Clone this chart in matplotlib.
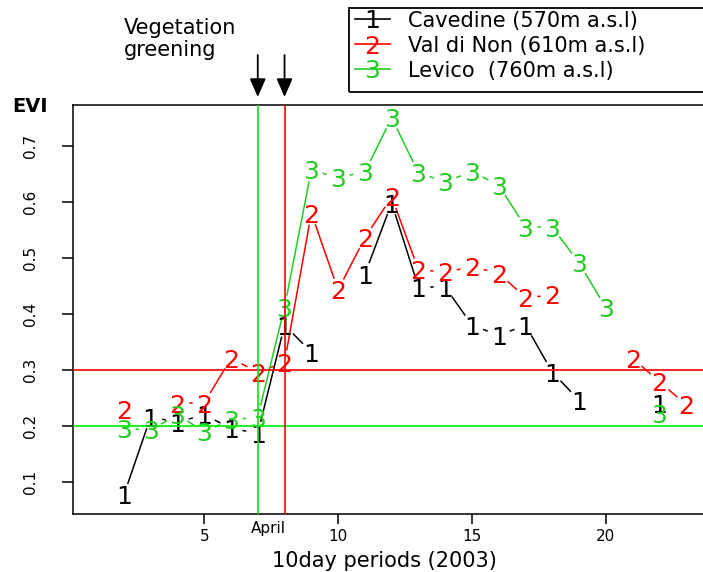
import numpy as np
import matplotlib
matplotlib.use("Agg")
import matplotlib.pyplot as plt
from matplotlib.patches import Rectangle

# EVI per 10-day period (2003), NaN = missing
periods = np.arange(2, 24)
cavedine = [0.077, 0.216, 0.207, 0.220, 0.196, 0.187, 0.380, 0.332, np.nan, 0.471, 0.598,
            0.448, 0.448, 0.380, 0.362, 0.380, 0.296, 0.246, np.nan, np.nan, 0.241, np.nan]
valdinon = [0.229, np.nan, 0.241, 0.241, 0.321, 0.296, 0.314, 0.580, 0.443, 0.536, 0.609,
            0.479, 0.475, 0.484, 0.473, 0.429, 0.434, np.nan, np.nan, 0.321, 0.279, 0.238]
levico = [0.196, 0.193, 0.220, 0.190, 0.211, 0.216, 0.412, 0.657, 0.643, 0.654, 0.750,
          0.652, 0.636, 0.654, 0.630, 0.555, 0.555, 0.491, 0.411, np.nan, 0.223, np.nan]

series_names = ["Cavedine (570m a.s.l)", "Val di Non (610m a.s.l)", "Levico  (760m a.s.l)"]
series_symbols = ["1", "2", "3"]
series_colors = ["black", "#ff0000", "#22cc22"]

greening_periods = [7, 8]
thresholds = [0.3, 0.2]
xticks = [5, 10, 15, 20]
yticks = [0.1, 0.2, 0.3, 0.4, 0.5, 0.6, 0.7]

W, H = 703, 572
fig = plt.figure(figsize=(W / 100, H / 100), dpi=100)


def fx(px):
    return px / W


def fy(py):
    return 1 - py / H


# axes box in pixels: left 73, right 713 (clipped), top 105, bottom 514
ax = fig.add_axes([fx(73), fy(514), fx(713) - fx(73), fy(105) - fy(514)])
ax.set_xlim(0.1, 24)
ax.set_ylim(0.043, 0.773)
for s in ax.spines.values():
    s.set_linewidth(1.1)

ax.set_xticks(xticks)
ax.set_yticks(yticks)
ax.set_yticklabels([f"{v:.1f}" for v in yticks], rotation=90, va="center")
ax.tick_params(axis="x", length=7, width=1.1, labelsize=11, pad=4)
ax.tick_params(axis="y", length=8, width=1.1, labelsize=11, pad=17)
ax.set_xlabel("10day periods (2003)", fontsize=15)
ax.xaxis.set_label_coords(0.487, -0.09)

gap = 12.5  # pixels left empty around each symbol (R type="b")


def draw_series(x, y, sym, color):
    y = np.asarray(y, dtype=float)
    pts = ax.transData.transform(np.column_stack([x, y]))
    inv = ax.transData.inverted()
    for i in range(len(x) - 1):
        if np.isnan(y[i]) or np.isnan(y[i + 1]):
            continue
        p0, p1 = pts[i], pts[i + 1]
        d = p1 - p0
        L = np.hypot(*d)
        if L <= 2 * gap:
            continue
        u = d / L
        a, b = inv.transform([p0 + u * gap, p1 - u * gap])
        ax.plot([a[0], b[0]], [a[1], b[1]], color=color, lw=1.1, zorder=2)
    for xi, yi in zip(x, y):
        if not np.isnan(yi):
            ax.text(xi, yi, sym, color=color, fontsize=18, ha="center",
                    va="center_baseline", zorder=3)


for vals, sym, col in zip([cavedine, valdinon, levico], series_symbols, series_colors):
    draw_series(periods, vals, sym, col)

ax.axhline(thresholds[0], color="#ff0000", lw=1.2, zorder=4)
ax.axhline(thresholds[1], color="#00ee00", lw=1.2, zorder=4)
ax.axvline(greening_periods[0], color="#00ee00", lw=1.2, zorder=4)
ax.axvline(greening_periods[1], color="#ff0000", lw=1.2, zorder=4)

ax.text(7.4, -0.035, "April", transform=ax.get_xaxis_transform(), ha="center",
        va="center", fontsize=11)

# EVI label and annotation
fig.text(fx(12), fy(107), "EVI", fontsize=14, fontweight="bold", va="center")
fig.text(fx(124), fy(18), "Vegetation\ngreening", fontsize=15, va="top", linespacing=1.1)
for g in greening_periods:
    xp = ax.transData.transform((g, 0.5))[0]
    ax.annotate("", xy=(xp, H - 97), xytext=(xp, H - 55), xycoords="figure pixels",
                textcoords="figure pixels",
                arrowprops=dict(arrowstyle="-|>,head_length=0.8,head_width=0.35",
                                mutation_scale=14, color="black", lw=1.3,
                                shrinkA=0, shrinkB=0))

# legend box (top right, outside the plot)
fig.add_artist(Rectangle((fx(349), fy(92)), fx(720) - fx(349), fy(8) - fy(92),
                         transform=fig.transFigure, fill=False, lw=1.3, ec="black",
                         clip_on=False))
rows = [19, 44, 69]
for r, name, sym, col in zip(rows, series_names, series_symbols, series_colors):
    fig.add_artist(plt.Line2D([fx(355), fx(390)], [fy(r), fy(r)], color=col, lw=1.2,
                              transform=fig.transFigure))
    fig.text(fx(372), fy(r), sym, color=col, fontsize=18, ha="center",
             va="center_baseline")
    fig.text(fx(408), fy(r), name, fontsize=15, va="center_baseline")

fig.savefig("out.png", dpi=100)
